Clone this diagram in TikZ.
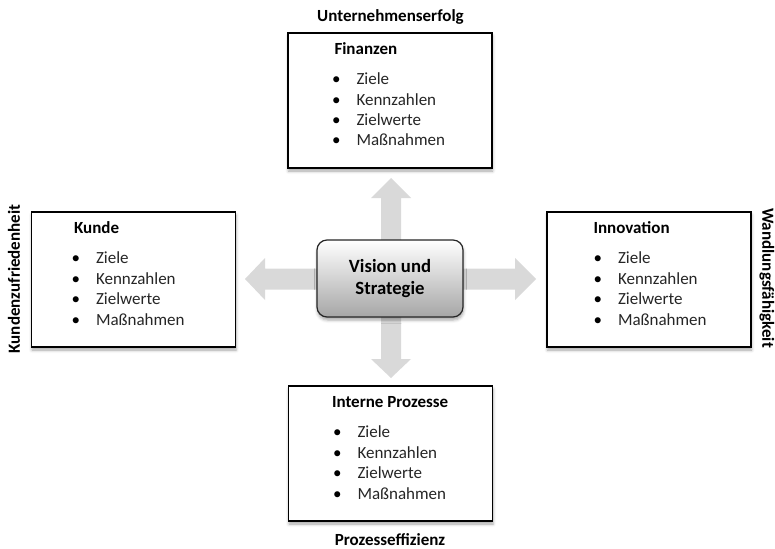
\documentclass[tikz,border=0pt]{standalone}
\usepackage{fontspec}
\setmainfont{Carlito}
\usetikzlibrary{shadows.blur}

% four perspective panels: title, then a bullet list of the same four items
\newcommand{\bscpanel}[4]{% #1 panel name, #2 title, #3 title indent, #4 bullet indent
  \node[paneltitle] (#1-title) at ([xshift=#3pt, yshift=-22.5pt]#1.north west) {#2};
  \foreach \itemtext [count=\k] in {Ziele, Kennzahlen, Zielwerte, Maßnahmen} {
    \node[bulletmark] (#1-b\k) at ([xshift=#4pt, yshift={-52.5pt-20.4pt*(\k-1)}]#1.north west) {•};
    \node[itemtext] (#1-i\k) at ([xshift={#4pt+20pt}, yshift={-52.5pt-20.4pt*(\k-1)}]#1.north west) {\itemtext};
  }
}

\begin{document}
\begin{tikzpicture}[x=1pt, y=-1pt,
  panel/.style={draw=black, line width=1.4pt, fill=white,
    minimum width=204pt, minimum height=135pt, inner sep=0pt,
    blur shadow={shadow xshift=0.5pt, shadow yshift=-3pt, shadow blur radius=3pt, shadow opacity=35}},
  core/.style={draw=black!85, line width=1.2pt, rounded corners=10pt,
    top color=white, bottom color=black!35,
    minimum width=146pt, minimum height=77pt, align=center, inner sep=0pt,
    font=\fontsize{18.7}{22}\selectfont\bfseries,
    blur shadow={shadow xshift=0.5pt, shadow yshift=-3pt, shadow blur radius=3pt, shadow opacity=35}},
  paneltitle/.style={anchor=base west, inner sep=0pt, font=\fontsize{17}{20}\selectfont\bfseries},
  bulletmark/.style={anchor=base, inner sep=0pt, font=\fontsize{17}{20}\selectfont},
  itemtext/.style={anchor=base west, inner sep=0pt, font=\fontsize{17}{20}\selectfont, text=black!85},
  outerlabel/.style={inner sep=0pt, font=\fontsize{17}{20}\selectfont\bfseries},
  flow/.style={fill=black!15, draw=none}
]
\useasboundingbox (0,0) rectangle (775,548);

% crossing double arrows behind the centre
\coordinate (vtop) at (391,178);
\coordinate (vbot) at (391,378);
\coordinate (hleft) at (245,279);
\coordinate (hright) at (536,279);
\fill[flow] (vtop) -- ++(20,20) -- ++(-10,0) -- ++(0,161) -- ++(10,0)
  -- (vbot) -- ++(-20,-19) -- ++(10,0) -- ++(0,-161) -- ++(-10,0) -- cycle;
\fill[flow] (hleft) -- ++(20,-21) -- ++(0,10.5) -- ++(250,0) -- ++(0,-10.5)
  -- (hright) -- ++(-21,21) -- ++(0,-10.5) -- ++(-250,0) -- ++(0,10.5) -- cycle;

% centre
\node[core] (vision) at (390,278.5) {Vision und\\Strategie};

% panels
\node[panel] (fin) at (390,100.5) {};
\node[panel] (kun) at (133.5,279.5) {};
\node[panel] (inn) at (649,279.5) {};
\node[panel] (pro) at (390.5,453.5) {};

\bscpanel{fin}{Finanzen}{47}{49}
\bscpanel{kun}{Kunde}{43}{45}
\bscpanel{inn}{Innovation}{47}{51.5}
\bscpanel{pro}{Interne Prozesse}{44}{49.5}

% outer labels
\node[outerlabel] (lfin) at (390.5,17) {Unternehmenserfolg};
\node[outerlabel, anchor=base] (lpro) at (390,545) {Prozesseffizienz};
\node[outerlabel, rotate=90] (lkun) at (14,279) {Kundenzufriedenheit};
\node[outerlabel, rotate=-90] (linn) at (767,278) {Wandlungsfähigkeit};
\end{tikzpicture}
\end{document}
